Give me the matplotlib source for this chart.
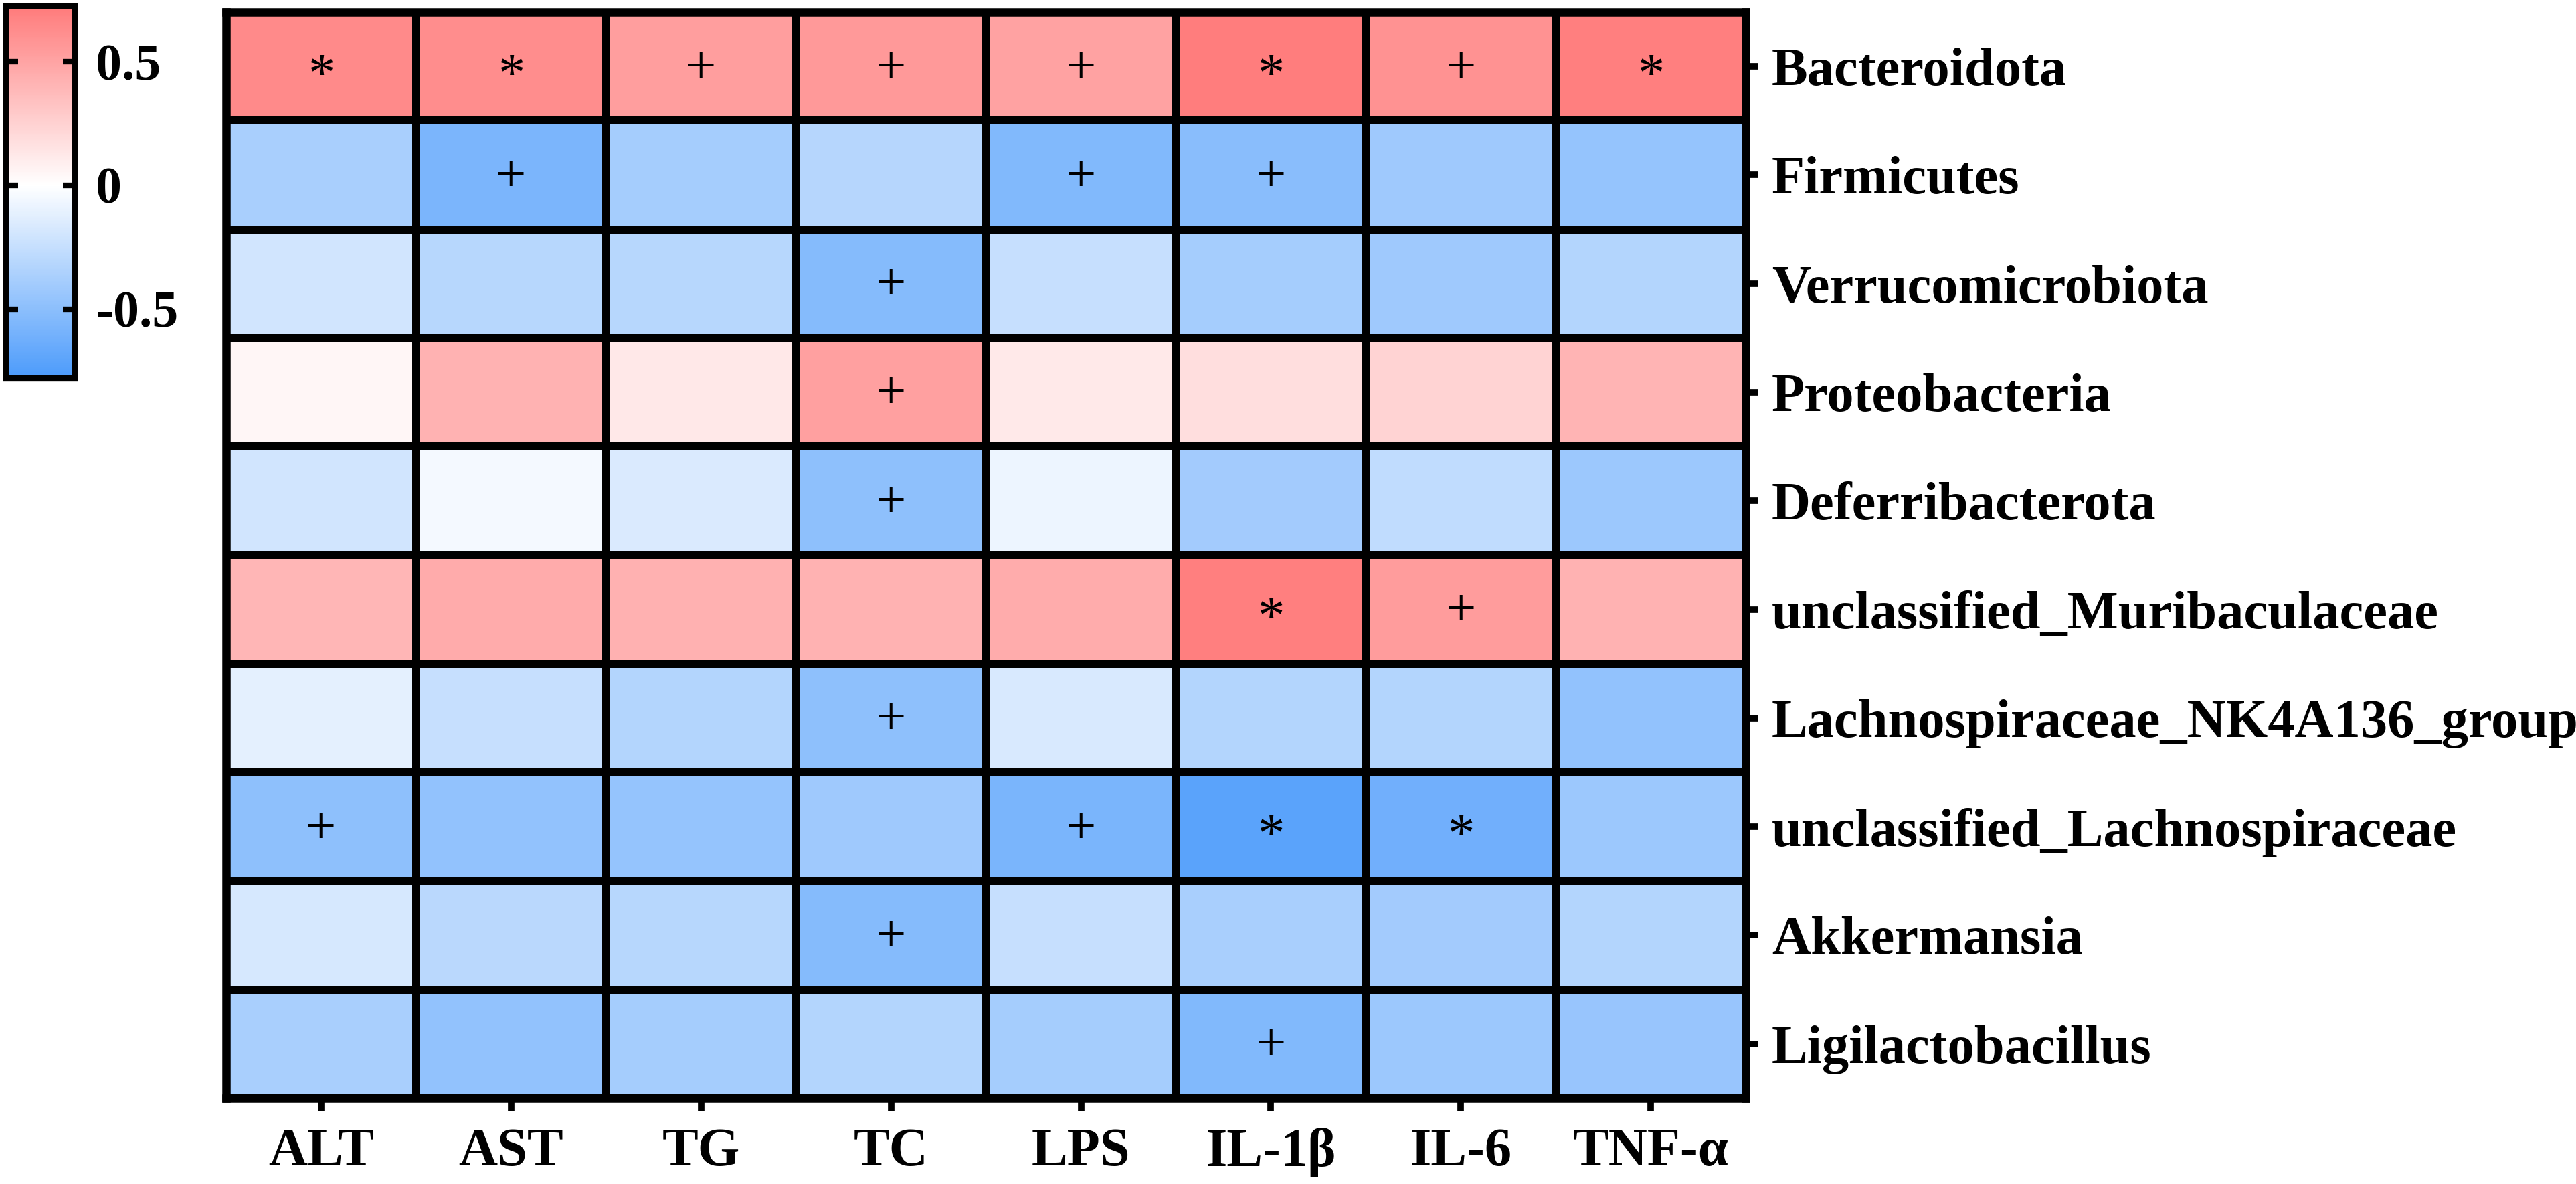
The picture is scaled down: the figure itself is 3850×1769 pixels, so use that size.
import numpy as np
import matplotlib
matplotlib.use("Agg")
import matplotlib.pyplot as plt
from matplotlib.colors import LinearSegmentedColormap, Normalize

# columns (clinical indices) and rows (taxa)
indices = ["ALT", "AST", "TG", "TC", "LPS", "IL-1β", "IL-6", "TNF-α"]
taxa = ["Bacteroidota", "Firmicutes", "Verrucomicrobiota", "Proteobacteria",
        "Deferribacterota", "unclassified_Muribaculaceae",
        "Lachnospiraceae_NK4A136_group", "unclassified_Lachnospiraceae",
        "Akkermansia", "Ligilactobacillus"]

# correlation values
r_bacteroidota = [0.64, 0.62, 0.53, 0.56, 0.51, 0.71, 0.60, 0.70]
r_firmicutes = [-0.37, -0.57, -0.39, -0.32, -0.55, -0.51, -0.42, -0.46]
r_verruco = [-0.20, -0.31, -0.31, -0.53, -0.25, -0.39, -0.42, -0.33]
r_proteo = [0.05, 0.42, 0.13, 0.52, 0.12, 0.18, 0.24, 0.41]
r_deferri = [-0.20, -0.05, -0.16, -0.49, -0.08, -0.40, -0.27, -0.43]
r_muribac = [0.40, 0.46, 0.43, 0.42, 0.45, 0.70, 0.54, 0.42]
r_nk4a136 = [-0.12, -0.25, -0.33, -0.49, -0.17, -0.33, -0.33, -0.47]
r_unc_lachno = [-0.49, -0.47, -0.46, -0.42, -0.58, -0.72, -0.62, -0.43]
r_akkerm = [-0.18, -0.30, -0.31, -0.53, -0.25, -0.37, -0.40, -0.33]
r_ligilac = [-0.37, -0.47, -0.39, -0.33, -0.39, -0.55, -0.43, -0.45]

# significance marks
sig_bacteroidota = ["*", "*", "+", "+", "+", "*", "+", "*"]
sig_firmicutes = ["", "+", "", "", "+", "+", "", ""]
sig_verruco = ["", "", "", "+", "", "", "", ""]
sig_proteo = ["", "", "", "+", "", "", "", ""]
sig_deferri = ["", "", "", "+", "", "", "", ""]
sig_muribac = ["", "", "", "", "", "*", "+", ""]
sig_nk4a136 = ["", "", "", "+", "", "", "", ""]
sig_unc_lachno = ["+", "", "", "", "+", "*", "*", ""]
sig_akkerm = ["", "", "", "+", "", "", "", ""]
sig_ligilac = ["", "", "", "", "", "+", "", ""]

cbar_ticks = [-0.5, 0, 0.5]
cbar_labels = ["-0.5", "0", "0.5"]

vals = np.array([r_bacteroidota, r_firmicutes, r_verruco, r_proteo, r_deferri,
                 r_muribac, r_nk4a136, r_unc_lachno, r_akkerm, r_ligilac])
marks = [sig_bacteroidota, sig_firmicutes, sig_verruco, sig_proteo, sig_deferri,
         sig_muribac, sig_nk4a136, sig_unc_lachno, sig_akkerm, sig_ligilac]

vmin, vmax = -0.78, 0.725
mid = -vmin / (vmax - vmin)
cmap = LinearSegmentedColormap.from_list(
    "bwr_soft", [(0, "#4C9BFB"), (mid, "#FFFFFF"), (1, "#FF7B7B")])
norm = Normalize(vmin=vmin, vmax=vmax)

serif = ["Liberation Serif", "DejaVu Serif"]
fs = 58

fig = plt.figure(figsize=(38.5, 17.69), dpi=100)
ax = fig.add_axes([0.0878, 0.0724, 0.5899, 0.9174])
mesh = ax.pcolormesh(vals, cmap=cmap, norm=norm, edgecolors="black", linewidth=8.5)
ax.set_xlim(0, len(indices))
ax.set_ylim(len(taxa), 0)

for s in ax.spines.values():
    s.set_linewidth(9)

ax.set_xticks(np.arange(len(indices)) + 0.5)
ax.set_xticklabels(indices, fontfamily=serif, fontweight="bold", fontsize=fs)
ax.set_yticks(np.arange(len(taxa)) + 0.5)
ax.set_yticklabels(taxa, fontfamily=serif, fontweight="bold", fontsize=fs)
ax.yaxis.tick_right()
ax.tick_params(axis="x", length=14, width=7, pad=18)
ax.tick_params(axis="y", length=14, width=7, pad=14)

# significance symbols
for i, row in enumerate(marks):
    for j, m in enumerate(row):
        if not m:
            continue
        off = 0.15 if m == "+" else 0.22
        ax.text(j + 0.5, i + 0.5 + off, m, ha="center", va="baseline",
                fontfamily=serif, fontsize=fs, color="black")

# colour bar
cax = fig.add_axes([0.00234, 0.6806, 0.0268, 0.3143])
cb = fig.colorbar(mesh, cax=cax)
cb.outline.set_linewidth(6)
cb.set_ticks(cbar_ticks)
cb.set_ticklabels(cbar_labels)
cax.yaxis.set_ticks_position("both")
cax.tick_params(axis="y", direction="in", length=13, width=6, pad=22,
                labelright=True, labelleft=False)
for t in cax.get_yticklabels():
    t.set_fontfamily(serif)
    t.set_fontweight("bold")
    t.set_fontsize(56)

fig.savefig("out.png", dpi=100)
